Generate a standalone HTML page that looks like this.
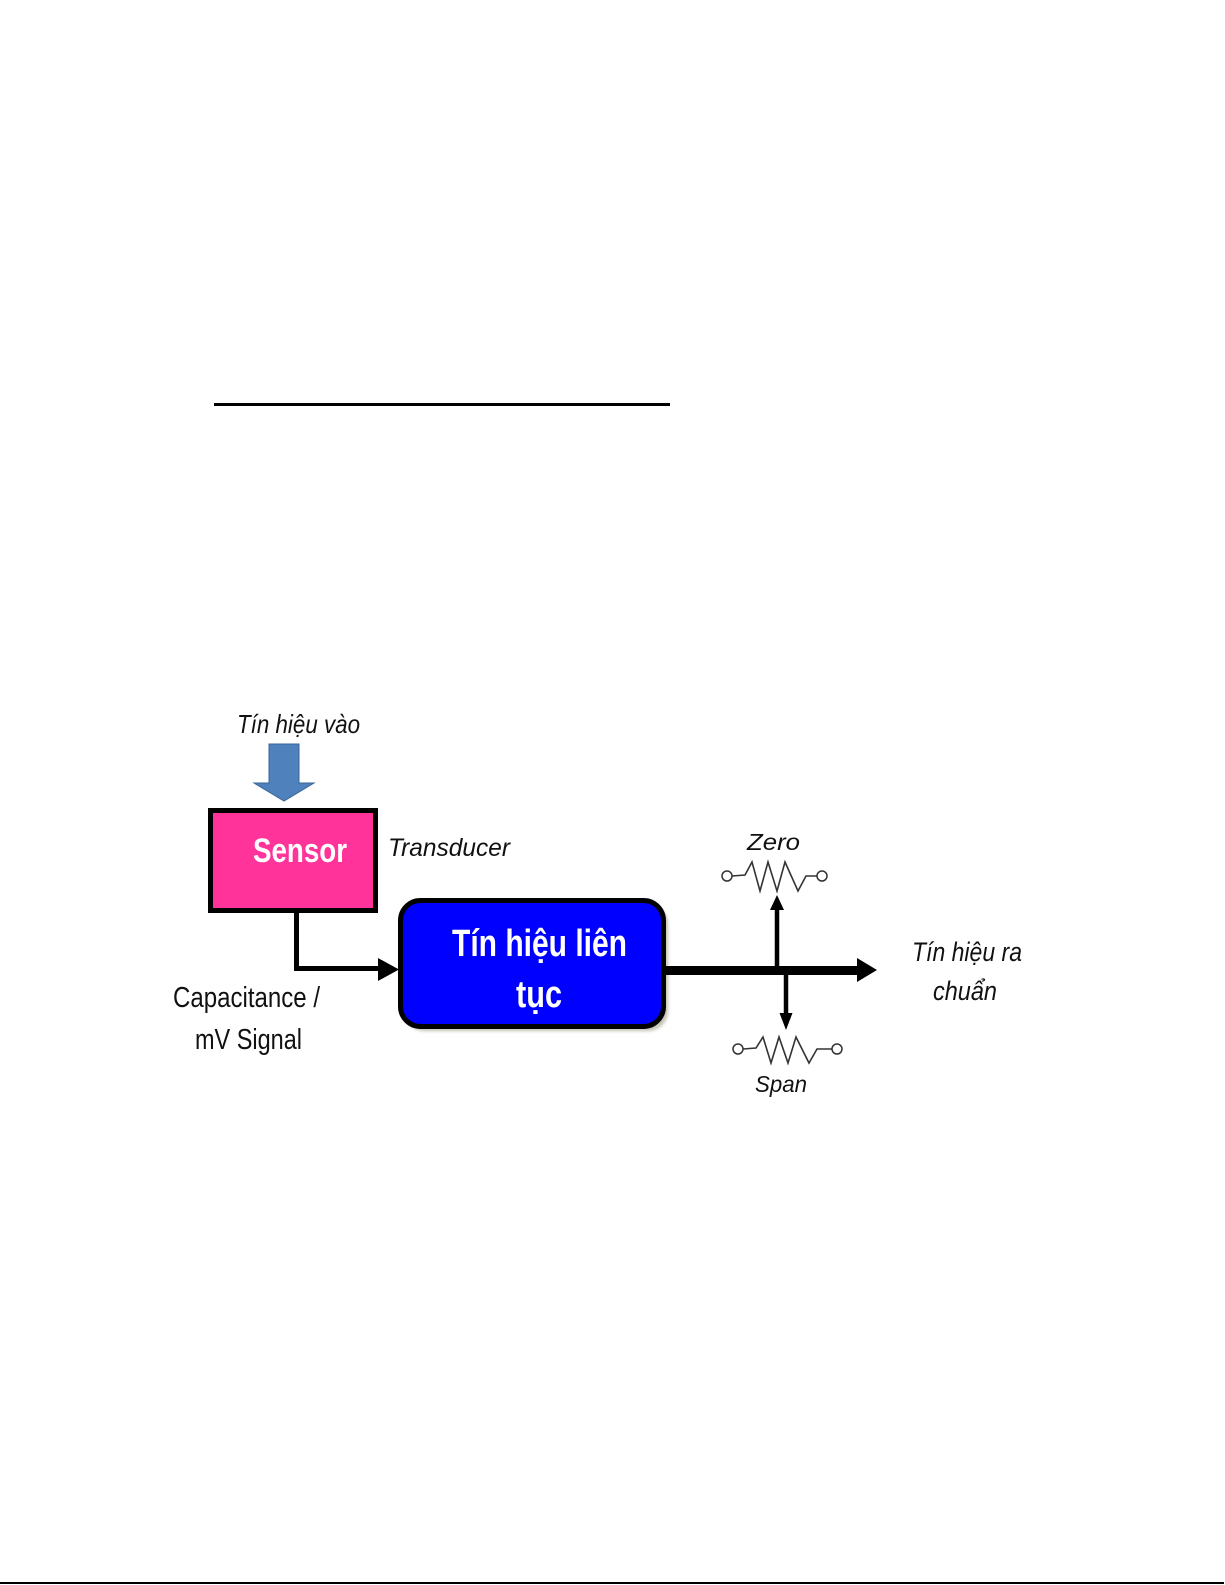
<!DOCTYPE html>
<html>
<head>
<meta charset="utf-8">
<style>
  html,body{margin:0;padding:0;background:#fff;}
  svg{display:block;}
  .it{font-family:"Liberation Sans","DejaVu Sans",sans-serif;font-style:italic;fill:#111;}
  .rg{font-family:"Liberation Sans","DejaVu Sans",sans-serif;fill:#111;}
  .bd{font-family:"Liberation Sans","DejaVu Sans",sans-serif;font-weight:bold;fill:#fff;}
</style>
</head>
<body>
<svg width="1225" height="1585" viewBox="0 0 1225 1585" xmlns="http://www.w3.org/2000/svg">
  <defs>
    <filter id="sh" x="-10%" y="-10%" width="130%" height="130%">
      <feGaussianBlur stdDeviation="1.5"/>
    </filter>
  </defs>
  <rect x="0" y="0" width="1225" height="1585" fill="#fff"/>

  <!-- top rule -->
  <rect x="214" y="403" width="456" height="3" fill="#000"/>

  <!-- bottom rule -->
  <rect x="0" y="1582" width="1224" height="2" fill="#000"/>

  <!-- input label -->
  <text class="it" x="237" y="733" font-size="26" textLength="123" lengthAdjust="spacingAndGlyphs">Tín hiệu vào</text>

  <!-- blue block arrow -->
  <polygon points="269,744 299,744 299,783 314,783 284,801 254,783 269,783" fill="#4F81BD" stroke="#3A6598" stroke-width="1"/>

  <!-- Sensor box -->
  <rect x="210.5" y="810.5" width="165" height="100" fill="#FF3399" stroke="#000" stroke-width="5"/>
  <text class="bd" x="253" y="862" font-size="34" textLength="94" lengthAdjust="spacingAndGlyphs">Sensor</text>
  <text class="it" x="388" y="856" font-size="25" textLength="122" lengthAdjust="spacingAndGlyphs">Transducer</text>

  <!-- connector sensor -> block -->
  <path d="M296.5 912 V968.5 H380" fill="none" stroke="#000" stroke-width="5"/>
  <polygon points="378,958 399,969.5 378,981" fill="#000"/>

  <text class="rg" x="173" y="1007" font-size="29" textLength="147" lengthAdjust="spacingAndGlyphs">Capacitance /</text>
  <text class="rg" x="195" y="1049" font-size="29" textLength="107" lengthAdjust="spacingAndGlyphs">mV Signal</text>

  <!-- blue rounded block -->
  <rect x="404" y="904" width="264" height="127" rx="20" ry="20" fill="#c4c2b4" filter="url(#sh)"/>
  <rect x="400.5" y="900.5" width="263" height="126" rx="20" ry="20" fill="#0000FF" stroke="#000" stroke-width="5"/>
  <text class="bd" x="452" y="956" font-size="38" textLength="175" lengthAdjust="spacingAndGlyphs">Tín hiệu liên</text>
  <text class="bd" x="516" y="1007" font-size="38" textLength="46" lengthAdjust="spacingAndGlyphs">tục</text>

  <!-- main output line -->
  <line x1="665" y1="970.5" x2="859" y2="970.5" stroke="#000" stroke-width="9"/>
  <polygon points="857,958 877,970 857,982" fill="#000"/>

  <!-- zero arrow (up) -->
  <line x1="777" y1="967" x2="777" y2="908" stroke="#000" stroke-width="4.5"/>
  <polygon points="770,910 777,895 784,910" fill="#000"/>

  <!-- span arrow (down) -->
  <line x1="786" y1="975" x2="786" y2="1015" stroke="#000" stroke-width="4.5"/>
  <polygon points="779.5,1013 786,1030 792.5,1013" fill="#000"/>

  <!-- Zero resistor -->
  <text class="it" x="747" y="850" font-size="23" textLength="53" lengthAdjust="spacingAndGlyphs">Zero</text>
  <polyline points="732,876 745,875 752,862 760,891 768,862 777,891 785,862 798,891 806,876 817,876" fill="none" stroke="#333" stroke-width="1.6"/>
  <circle cx="727" cy="876" r="5" fill="#fff" stroke="#333" stroke-width="1.5"/>
  <circle cx="822" cy="876" r="5" fill="#fff" stroke="#333" stroke-width="1.5"/>

  <!-- Span resistor -->
  <polyline points="743,1049 756,1048 763,1037 771,1063 779,1037 788,1063 796,1037 809,1063 817,1049 832,1049" fill="none" stroke="#333" stroke-width="1.6"/>
  <circle cx="738" cy="1049" r="5" fill="#fff" stroke="#333" stroke-width="1.5"/>
  <circle cx="837" cy="1049" r="5" fill="#fff" stroke="#333" stroke-width="1.5"/>
  <text class="it" x="755" y="1092" font-size="23" textLength="52" lengthAdjust="spacingAndGlyphs">Span</text>

  <!-- output label -->
  <text class="it" x="912" y="961" font-size="27" textLength="110" lengthAdjust="spacingAndGlyphs">Tín hiệu ra</text>
  <text class="it" x="933" y="1000" font-size="27" textLength="64" lengthAdjust="spacingAndGlyphs">chuẩn</text>
</svg>
</body>
</html>
